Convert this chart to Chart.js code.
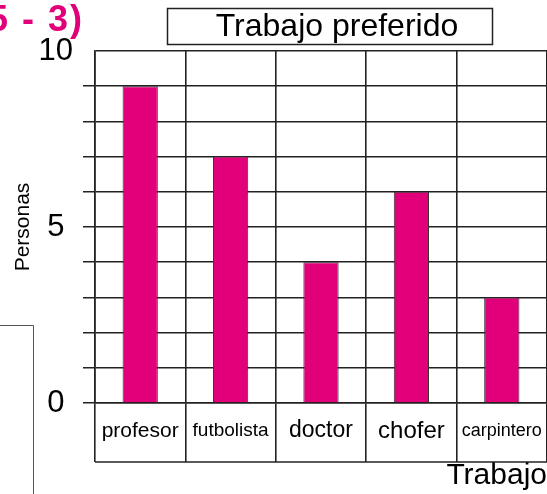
<!DOCTYPE html>
<html>
<head>
<meta charset="utf-8">
<script src="https://cdn.jsdelivr.net/npm/chart.js@4"></script>
<style>
  html, body { margin: 0; padding: 0; background: #fff; }
  #wrap { position: relative; width: 547px; height: 494px; }
</style>
</head>
<body>
<div id="wrap"><canvas id="trabajoChart"></canvas></div>
<script>
const trabajos = ["profesor", "futbolista", "doctor", "chofer", "carpintero"];
const personas = [9, 7, 4, 6, 3];
const etiquetasY = [0, 5, 10];
const tamanoEtiqueta = [21, 19, 23, 24, 18];

const LINE = "#222";
const FUCSIA = "#e2007a";
const FAMILIA = "'Liberation Sans', Arial, sans-serif";

// title box, label-box bottom edge and the stray marks around the chart
const decoraciones = {
    id: "decoraciones",
    afterDraw(chart) {
        const ctx = chart.ctx;
        const area = chart.chartArea;
        const xScale = chart.scales.x;
        ctx.save();
        ctx.strokeStyle = LINE;
        ctx.lineWidth = 1.5;

        // title in a box
        ctx.strokeRect(167.5, 8.5, 325, 36);
        ctx.fillStyle = "#000";
        ctx.font = "32px " + FAMILIA;
        ctx.textAlign = "center";
        ctx.textBaseline = "middle";
        ctx.fillText("Trabajo preferido", 337, 27);

        // closing line under the category boxes
        const yb = xScale.top + xScale.options.grid.tickLength;
        ctx.beginPath();
        ctx.moveTo(area.left, yb);
        ctx.lineTo(area.right, yb);
        ctx.stroke();

        // part of a neighbouring frame on the left
        ctx.strokeStyle = "#555";
        ctx.lineWidth = 1;
        ctx.beginPath();
        ctx.moveTo(0, 325.5);
        ctx.lineTo(33.5, 325.5);
        ctx.lineTo(33.5, 494);
        ctx.stroke();

        // exercise number, cut by the page edge
        ctx.fillStyle = FUCSIA;
        ctx.font = "bold 36px " + FAMILIA;
        ctx.textAlign = "left";
        ctx.textBaseline = "alphabetic";
        ctx.letterSpacing = "2px";
        ctx.fillText("5 - 3)", -12, 31);
        ctx.restore();
    }
};

const ctx = document.getElementById("trabajoChart").getContext("2d");
new Chart(ctx, {
    type: "bar",
    data: {
        labels: trabajos,
        datasets: [{
            label: "Personas",
            data: personas,
            backgroundColor: FUCSIA,
            borderColor: "#333",
            borderWidth: 1,
            categoryPercentage: 1,
            barPercentage: 0.39,
        }],
    },
    options: {
        responsive: true,
        maintainAspectRatio: false,
        animation: false,
        layout: { padding: { top: 51, left: 0, right: 0, bottom: 0 } },
        plugins: {
            legend: { display: false },
            tooltip: { enabled: false },
        },
        scales: {
            x: {
                grid: {
                    offset: true,
                    color: (c) => (c.index === trabajos.length ? "transparent" : LINE),
                    lineWidth: 1.6,
                    drawTicks: true,
                    tickLength: 59,
                    tickColor: LINE,
                    tickWidth: 1.6,
                },
                border: { color: LINE, width: 1.6 },
                ticks: {
                    color: "#000",
                    padding: -43,
                    maxRotation: 0,
                    minRotation: 0,
                    autoSkip: false,
                    // same line height for all sizes keeps the labels centred in their boxes
                    font: (c) => ({
                        family: FAMILIA,
                        size: tamanoEtiqueta[c.index] || 20,
                        lineHeight: "24px",
                    }),
                },
                title: {
                    display: true,
                    text: "Trabajo",
                    align: "end",
                    color: "#000",
                    font: { family: FAMILIA, size: 30 },
                    padding: { top: 0, bottom: 0 },
                },
                afterFit: (s) => {
                    s.height = 91;
                    s.paddingLeft = 0;
                    s.paddingRight = 0;
                },
            },
            y: {
                min: 0,
                max: 10,
                grid: {
                    color: LINE,
                    lineWidth: 1.5,
                    drawTicks: true,
                    tickLength: 12,
                    tickColor: (c) => (c.tick && c.tick.value === 10 ? "transparent" : LINE),
                    tickWidth: 1.5,
                },
                border: { color: LINE, width: 1.6 },
                ticks: {
                    stepSize: 1,
                    autoSkip: false,
                    color: "#000",
                    padding: 10,
                    crossAlign: "center",
                    font: { family: FAMILIA, size: 31 },
                    callback: (v) => (etiquetasY.includes(v) ? String(v) : ""),
                },
                title: {
                    display: true,
                    text: "Personas",
                    color: "#000",
                    font: { family: FAMILIA, size: 21 },
                    padding: { top: 11, bottom: 0 },
                },
                afterFit: (s) => {
                    s.width = 95;
                    s.paddingTop = 0;
                    s.paddingBottom = 0;
                },
            },
        },
    },
    plugins: [decoraciones],
});
</script>
</body>
</html>
